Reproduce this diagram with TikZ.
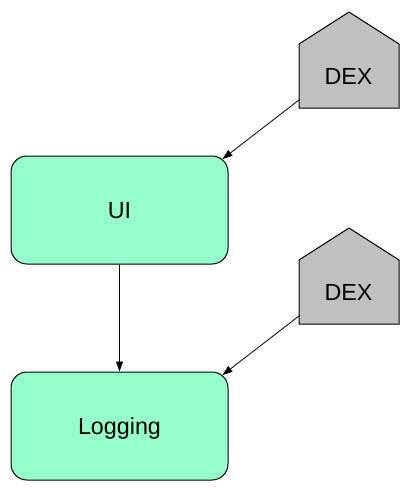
\documentclass[tikz,border=0pt]{standalone}
\usepackage{fontspec}
\setmainfont{Liberation Sans}
\usetikzlibrary{arrows.meta}
\definecolor{boxgreen}{HTML}{94FDC9}
\definecolor{dexgrey}{HTML}{C0C0C0}
\begin{document}
\begin{tikzpicture}[x=1pt,y=-1pt,
  bigtext/.style={font=\fontsize{23.3}{28}\selectfont,text height=16.7pt,text depth=0pt},
  module/.style={draw=black,line width=1pt,fill=boxgreen,rounded corners=16pt,
    minimum width=217pt,minimum height=108pt,inner sep=0pt,bigtext},
  house/.style={draw=black,line width=1pt,fill=dexgrey},
  dexlabel/.style={inner sep=0pt,bigtext},
  link/.style={draw=black,line width=0.8pt,-{Triangle[length=10pt,width=7pt]}}]
\useasboundingbox (0,0) rectangle (409,491);

% application modules
\node[module] (ui) at (119.5,210) {UI};
\node[module] (log) at (119.5,426) {Logging};

% DEX houses
\draw[house] (299,44) -- (349,12) -- (399,44) -- (399,108) -- (299,108) -- cycle;
\node[dexlabel] (dex1) at (348.5,76) {DEX};
\coordinate (dex1out) at (299,100);

\draw[house] (299,260) -- (349,228) -- (399,260) -- (399,324) -- (299,324) -- cycle;
\node[dexlabel] (dex2) at (348.5,292) {DEX};
\coordinate (dex2out) at (299,316);

% connectors
\draw[link] (dex1out) -- (222.5,159);
\draw[link] (ui.south) -- (log.north);
\draw[link] (dex2out) -- (222.5,375);
\end{tikzpicture}
\end{document}
